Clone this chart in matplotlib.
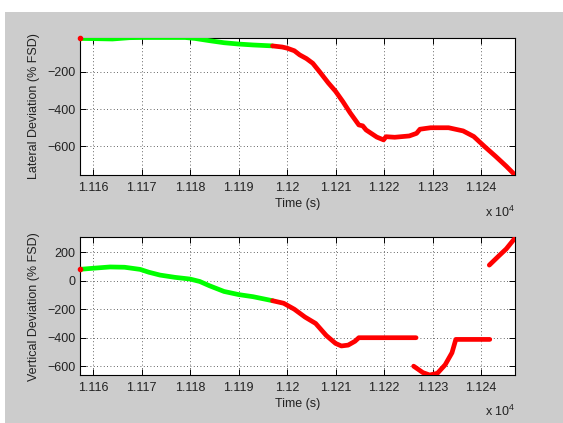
import matplotlib
matplotlib.use("Agg")
import matplotlib.pyplot as plt
from matplotlib.patches import Rectangle

plt.rcParams['font.family'] = ['Liberation Sans', 'DejaVu Sans']
plt.rcParams['mathtext.fontset'] = 'custom'
plt.rcParams['mathtext.rm'] = 'Liberation Sans'
plt.rcParams['mathtext.it'] = 'Liberation Sans'

# ---------------- data ----------------
lat_green_t = [11157.2, 11160, 11164, 11167.5, 11170, 11175, 11179, 11181, 11184, 11187, 11190, 11193, 11197]
lat_green_v = [-22, -23, -25, -18, -17, -17, -17, -22, -34, -45, -52, -57, -62]

lat_red_t = [11197, 11199, 11200, 11201.5, 11202.6, 11204, 11205.3, 11206.7, 11208.5, 11210, 11211.5,
             11213, 11214.8, 11215.6, 11216.3, 11218.5, 11219.9, 11220.4, 11222.2, 11225.2, 11226.7,
             11227.4, 11229.6, 11233.3, 11236.3, 11238.5, 11240.7, 11243, 11245.2, 11247]
lat_red_v = [-62, -68, -74, -88, -110, -130, -155, -200, -260, -305, -360,
             -420, -485, -490, -512, -550, -565, -548, -551, -544, -530,
             -508, -500, -500, -517, -547, -600, -653, -706, -753]

vert_green_t = [11157.2, 11160, 11163.5, 11166.5, 11169.7, 11171.5, 11173.8, 11176.9, 11180, 11182,
                11184, 11187, 11190, 11193, 11197]
vert_green_v = [80, 88, 97, 95, 80, 60, 40, 24, 12, -5, -35, -75, -97, -112, -140]

vert_red1_t = [11197, 11199.3, 11201.5, 11203.7, 11205.9, 11208.1, 11210, 11211.2, 11212.6, 11214, 11214.8, 11226.6]
vert_red1_v = [-140, -158, -200, -255, -300, -385, -440, -458, -452, -425, -400, -400]
vert_red2_t = [11226.1, 11228, 11229.4, 11231, 11232.6, 11234, 11234.8, 11241.8]
vert_red2_v = [-600, -645, -662, -650, -590, -506, -412, -412]
vert_red3_t = [11241.7, 11243.7, 11245.2, 11247]
vert_red3_v = [110, 176, 224, 300]

x_ticks = [11160, 11170, 11180, 11190, 11200, 11210, 11220, 11230, 11240]
x_tick_labels = ['1.116', '1.117', '1.118', '1.119', '1.12', '1.121', '1.122', '1.123', '1.124']
lat_yticks = [-600, -400, -200]
vert_yticks = [-600, -400, -200, 0, 200]

GREEN = '#00ff00'
RED = '#ff0000'
GRAY = '#cccccc'

W, H = 563, 423
fig = plt.figure(figsize=(W / 100, H / 100), dpi=100, facecolor='white')
fig.patches.append(Rectangle((5 / W, 0), 1 - 5 / W, 1 - 12 / H, transform=fig.transFigure,
                             facecolor=GRAY, edgecolor='none', zorder=-10))

left, right = 79.5, 515
def axes_at(top, bottom):
    return fig.add_axes([left / W, 1 - bottom / H, (right - left) / W, (bottom - top) / H])

ax1 = axes_at(37.5, 175)
ax2 = axes_at(237.5, 375)

lw = 3.4
ax1.plot(lat_green_t, lat_green_v, color=GREEN, lw=lw, solid_capstyle='round', solid_joinstyle='round', zorder=3)
ax1.plot(lat_red_t, lat_red_v, color=RED, lw=lw, solid_capstyle='round', solid_joinstyle='round', zorder=3)
ax1.plot(lat_green_t[:1], lat_green_v[:1], 'o', color=RED, ms=3, zorder=4, clip_on=False)

ax2.plot(vert_green_t, vert_green_v, color=GREEN, lw=lw, solid_capstyle='round', solid_joinstyle='round', zorder=3)
for t, v in [(vert_red1_t, vert_red1_v), (vert_red2_t, vert_red2_v), (vert_red3_t, vert_red3_v)]:
    ax2.plot(t, v, color=RED, lw=lw, solid_capstyle='round', solid_joinstyle='round', zorder=3)
ax2.plot(vert_green_t[:1], vert_green_v[:1], 'o', color=RED, ms=3, zorder=4, clip_on=False)

ax1.set_ylim(-753, -17)
ax2.set_ylim(-662, 304)
ax1.set_yticks(lat_yticks)
ax2.set_yticks(vert_yticks)

for ax, ylab in [(ax1, 'Lateral Deviation (% FSD)'), (ax2, 'Vertical Deviation (% FSD)')]:
    ax.set_xlim(11157.2, 11247.0)
    ax.set_xticks(x_ticks)
    ax.set_xticklabels(x_tick_labels)
    ax.set_facecolor('white')
    for s in ax.spines.values():
        s.set_linewidth(0.8)
        s.set_color('black')
    ax.tick_params(direction='in', length=4, width=0.7, top=True, right=True,
                   labelsize=9, colors='black', labelcolor='#222222')
    ax.tick_params(axis='y', pad=3)
    ax.tick_params(axis='x', pad=5)
    ax.grid(True, color='#333333', linestyle=(0, (1, 3)), linewidth=0.6)
    ax.set_axisbelow(True)
    ax.set_xlabel('Time (s)', fontsize=9, color='#222222', labelpad=3)
    ax.set_ylabel(ylab, fontsize=9, color='#222222')
    ax.yaxis.label.set_va('center')
    ax.yaxis.set_label_coords((34 - left) / (right - left), 0.5)

fig.text(485 / W, 1 - 212 / H, r'x 10$^{4}$', fontsize=9, color='#222222', ha='left', va='center')
fig.text(485 / W, 1 - 411 / H, r'x 10$^{4}$', fontsize=9, color='#222222', ha='left', va='center')

fig.savefig('out.png', dpi=100, facecolor=fig.get_facecolor())
